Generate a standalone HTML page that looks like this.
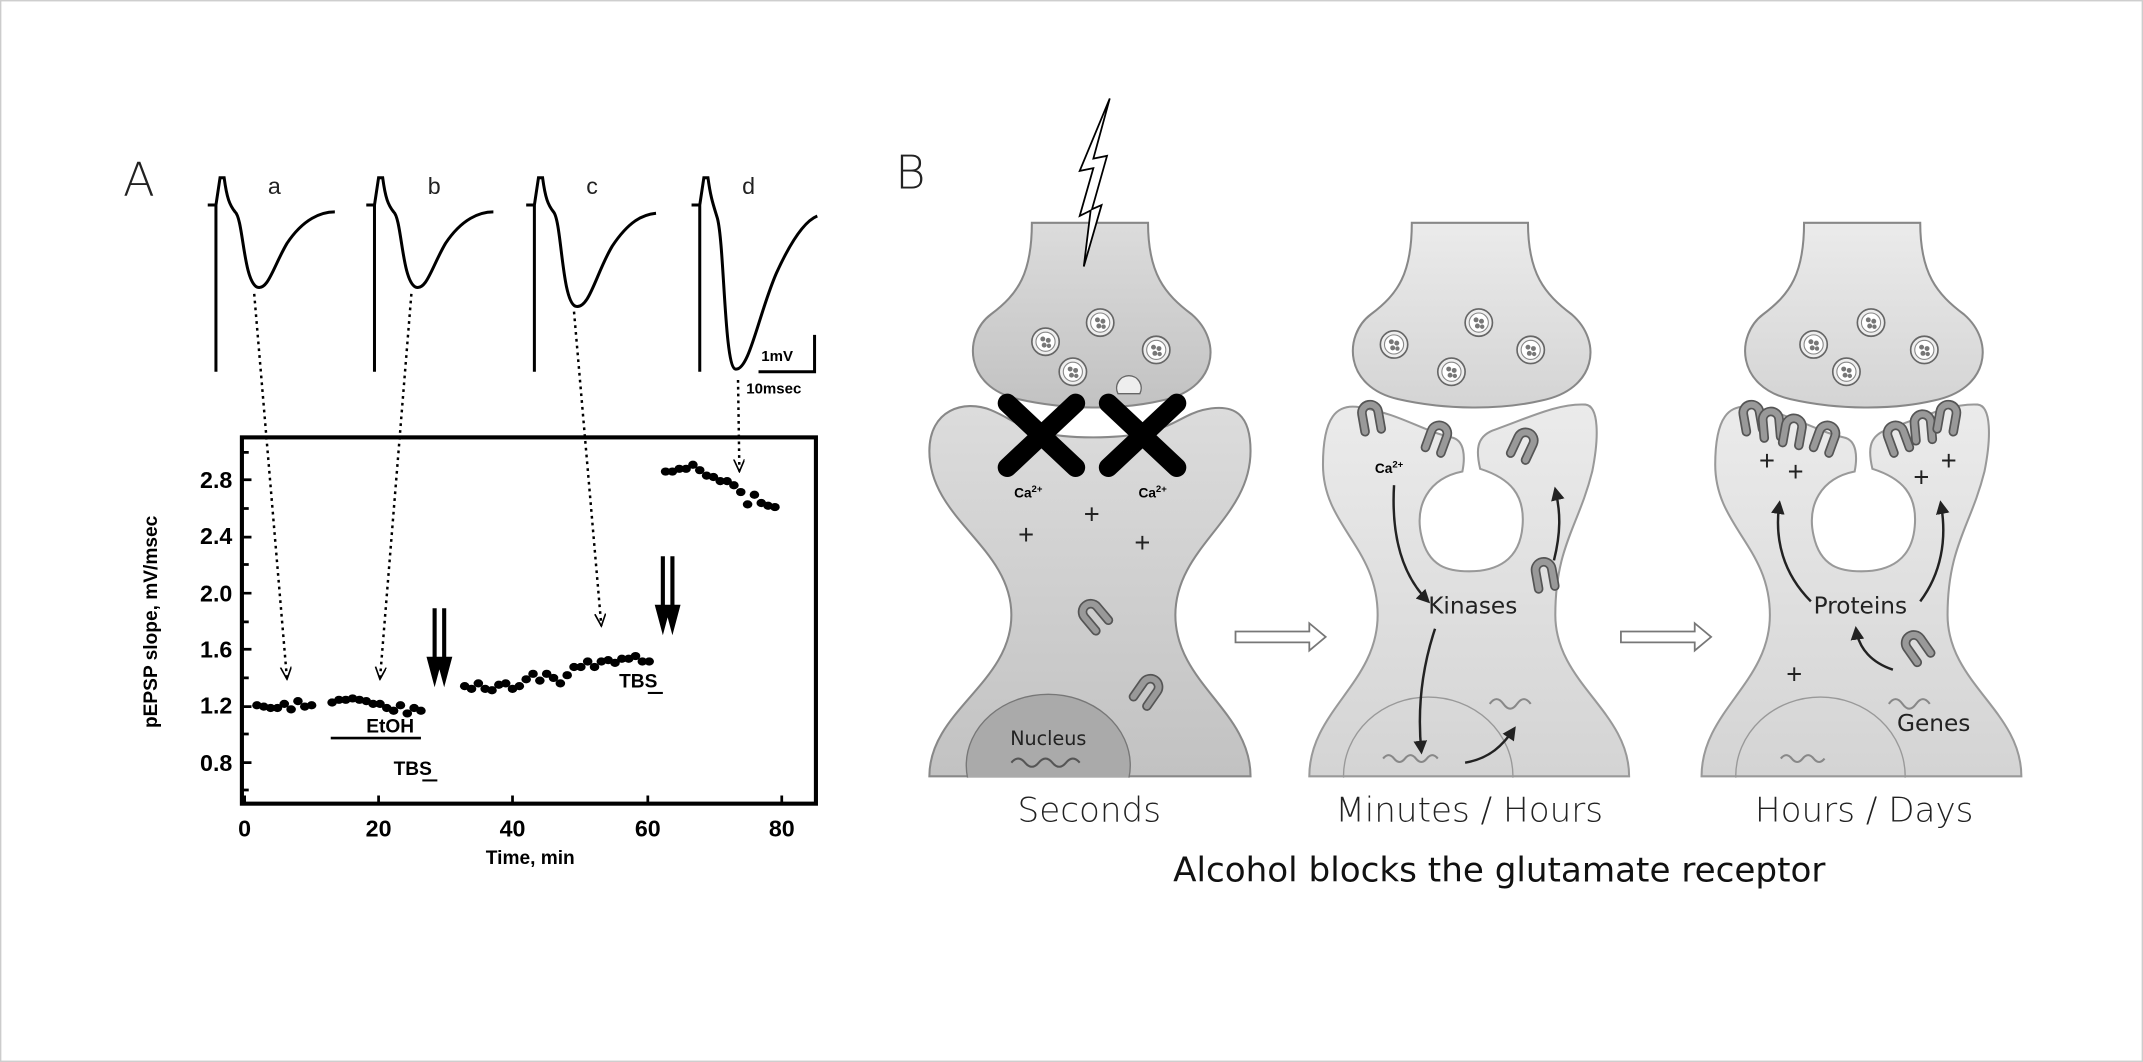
<!DOCTYPE html>
<html><head><meta charset="utf-8"><style>
html,body{margin:0;padding:0;background:#fff}
svg{display:block}
text{font-family:"Liberation Sans",sans-serif}
</style></head><body>
<svg width="2143" height="1062" viewBox="0 0 1568 777" xmlns="http://www.w3.org/2000/svg">
<defs>
<linearGradient id="g1" x1="0" y1="0" x2="0" y2="1"><stop offset="0" stop-color="#dcdcdc"/><stop offset="1" stop-color="#c2c2c2"/></linearGradient>
<linearGradient id="g2" x1="0" y1="0" x2="0" y2="1"><stop offset="0" stop-color="#ebebeb"/><stop offset="1" stop-color="#d4d4d4"/></linearGradient>
<marker id="ah" markerWidth="10" markerHeight="10" refX="9" refY="4" orient="auto" markerUnits="userSpaceOnUse"><path d="M0,0 L9,4 L0,8" fill="none" stroke="#000" stroke-width="1.2"/></marker>
<marker id="ak" markerWidth="10" markerHeight="10" refX="8" refY="5" orient="auto" markerUnits="userSpaceOnUse"><path d="M0,0 L10,5 L0,10 Z" fill="#222"/></marker>
<g id="ves"><circle r="10" fill="#eee" stroke="#666" stroke-width="1.2"/><circle r="7" fill="#fff" stroke="#888" stroke-width="0.8"/><circle cx="-2" cy="-2" r="1.8" fill="#777"/><circle cx="2" cy="-1" r="1.8" fill="#777"/><circle cx="-1" cy="2.5" r="1.8" fill="#777"/><circle cx="2.5" cy="3" r="1.6" fill="#777"/></g>
<g id="rec"><path d="M-6,10 L-6,-3 A6,6 0 0 1 6,-3 L6,10" fill="none" stroke="#555" stroke-width="7" stroke-linecap="round"/><path d="M-6,10 L-6,-3 A6,6 0 0 1 6,-3 L6,10" fill="none" stroke="#999" stroke-width="4.5" stroke-linecap="round"/></g>
<g id="pre"><path d="M755,163 L840,163 C840,200 852,215 872,230 C895,250 890,285 850,293 C820,300 780,300 745,292 C705,283 705,245 725,230 C745,215 755,200 755,163 Z" stroke="#888" stroke-width="1.5"/></g>
</defs>
<rect x="0.5" y="0.5" width="1567" height="776" fill="#fff" stroke="#ccc"/>

<!-- Panel A -->
<text x="90" y="143" font-size="34" fill="#222" style="font-family:'DejaVu Sans',sans-serif;font-weight:200">A</text>
<g font-size="17" fill="#222" style="font-family:'DejaVu Sans',sans-serif"><text x="196" y="142">a</text><text x="313" y="142">b</text><text x="429" y="142">c</text><text x="543" y="142">d</text></g>
<g fill="none" stroke="#000" stroke-width="2.2">
<path d="M152,150 L158,150 L158,272 M158,150 L161,130 L164,130 C166,145 168,150 172,155 C178,160 178,205 188,210 C196,213 200,195 210,178 C222,160 235,155 245,155"/>
<path d="M268,150 L274,150 L274,272 M274,150 L277,130 L280,130 C282,145 284,150 288,155 C294,160 294,205 304,210 C312,213 316,195 326,178 C338,160 351,155 361,155"/>
<path d="M385,150 L391,150 L391,272 M391,150 L394,130 L397,130 C399,145 401,150 405,155 C411,162 411,220 421,224 C431,227 436,200 448,180 C460,162 470,157 480,156"/>
<path d="M506,150 L512,150 L512,272 M512,150 L515,130 L518,130 C520,145 522,150 525,160 C530,180 530,268 538,270 C548,272 555,230 568,200 C578,178 588,162 598,158"/>
<path d="M555,272 L596,272 L596,245"/>
</g>
<text x="557" y="264" font-size="11" font-weight="bold">1mV</text>
<text x="546" y="288" font-size="11" font-weight="bold">10msec</text>
<g fill="none" stroke="#000" stroke-width="1.8" stroke-dasharray="2,3">
<path d="M186,215 L210,497" marker-end="url(#ah)"/>
<path d="M301,215 L278,497" marker-end="url(#ah)"/>
<path d="M420,228 L440,458" marker-end="url(#ah)"/>
<path d="M540,278 L541,345" marker-end="url(#ah)"/>
</g>
<rect x="177" y="320" width="420" height="268" fill="none" stroke="#000" stroke-width="3"/>
<g stroke="#000" stroke-width="2">
<path d="M177,331 h5 M177,351 h7 M177,372 h5 M177,393 h7 M177,413 h5 M177,434 h7 M177,455 h5 M177,475 h7 M177,496 h5 M177,517 h7 M177,537 h5 M177,558 h7 M177,578 h5"/>
<path d="M179,588 v-6 M277,588 v-6 M375,588 v-6 M474,588 v-6 M572,588 v-6"/>
</g>
<g font-size="17" font-weight="bold" text-anchor="end"><text x="170" y="357">2.8</text><text x="170" y="398">2.4</text><text x="170" y="440">2.0</text><text x="170" y="481">1.6</text><text x="170" y="522">1.2</text><text x="170" y="564">0.8</text></g>
<g font-size="17" font-weight="bold" text-anchor="middle"><text x="179" y="612">0</text><text x="277" y="612">20</text><text x="375" y="612">40</text><text x="474" y="612">60</text><text x="572" y="612">80</text></g>
<text x="388" y="632" font-size="14" font-weight="bold" text-anchor="middle">Time, min</text>
<text transform="translate(115,455) rotate(-90)" font-size="14" font-weight="bold" text-anchor="middle">pEPSP slope,  mV/msec</text>
<g fill="#000">
<ellipse cx="188" cy="516" rx="3.5" ry="3"/><ellipse cx="193" cy="517" rx="3.5" ry="3"/><ellipse cx="198" cy="518" rx="3.5" ry="3"/><ellipse cx="203" cy="518" rx="3.5" ry="3"/><ellipse cx="208" cy="515" rx="3.5" ry="3"/><ellipse cx="213" cy="519" rx="3.5" ry="3"/><ellipse cx="218" cy="513" rx="3.5" ry="3"/><ellipse cx="223" cy="517" rx="3.5" ry="3"/><ellipse cx="228" cy="516" rx="3.5" ry="3"/>
<ellipse cx="243" cy="514" rx="3.5" ry="3"/><ellipse cx="248" cy="512" rx="3.5" ry="3"/><ellipse cx="253" cy="512" rx="3.5" ry="3"/><ellipse cx="258" cy="511" rx="3.5" ry="3"/><ellipse cx="263" cy="512" rx="3.5" ry="3"/><ellipse cx="268" cy="513" rx="3.5" ry="3"/><ellipse cx="273" cy="515" rx="3.5" ry="3"/><ellipse cx="278" cy="515" rx="3.5" ry="3"/><ellipse cx="283" cy="518" rx="3.5" ry="3"/><ellipse cx="288" cy="520" rx="3.5" ry="3"/><ellipse cx="293" cy="516" rx="3.5" ry="3"/><ellipse cx="298" cy="522" rx="3.5" ry="3"/><ellipse cx="303" cy="518" rx="3.5" ry="3"/><ellipse cx="308" cy="520" rx="3.5" ry="3"/>
<ellipse cx="340" cy="502" rx="3.5" ry="3"/><ellipse cx="345" cy="504" rx="3.5" ry="3"/><ellipse cx="350" cy="500" rx="3.5" ry="3"/><ellipse cx="355" cy="504" rx="3.5" ry="3"/><ellipse cx="360" cy="505" rx="3.5" ry="3"/><ellipse cx="365" cy="501" rx="3.5" ry="3"/><ellipse cx="370" cy="500" rx="3.5" ry="3"/><ellipse cx="375" cy="504" rx="3.5" ry="3"/><ellipse cx="380" cy="502" rx="3.5" ry="3"/><ellipse cx="385" cy="497" rx="3.5" ry="3"/><ellipse cx="390" cy="493" rx="3.5" ry="3"/><ellipse cx="395" cy="498" rx="3.5" ry="3"/><ellipse cx="400" cy="493" rx="3.5" ry="3"/><ellipse cx="405" cy="496" rx="3.5" ry="3"/><ellipse cx="410" cy="500" rx="3.5" ry="3"/><ellipse cx="415" cy="494" rx="3.5" ry="3"/><ellipse cx="420" cy="488" rx="3.5" ry="3"/><ellipse cx="425" cy="488" rx="3.5" ry="3"/><ellipse cx="430" cy="484" rx="3.5" ry="3"/><ellipse cx="435" cy="488" rx="3.5" ry="3"/><ellipse cx="440" cy="484" rx="3.5" ry="3"/><ellipse cx="445" cy="483" rx="3.5" ry="3"/><ellipse cx="450" cy="485" rx="3.5" ry="3"/><ellipse cx="455" cy="482" rx="3.5" ry="3"/><ellipse cx="460" cy="482" rx="3.5" ry="3"/><ellipse cx="465" cy="480" rx="3.5" ry="3"/><ellipse cx="470" cy="484" rx="3.5" ry="3"/><ellipse cx="475" cy="484" rx="3.5" ry="3"/>
<ellipse cx="487" cy="345" rx="3.5" ry="3"/><ellipse cx="492" cy="345" rx="3.5" ry="3"/><ellipse cx="497" cy="343" rx="3.5" ry="3"/><ellipse cx="502" cy="343" rx="3.5" ry="3"/><ellipse cx="507" cy="340" rx="3.5" ry="3"/><ellipse cx="512" cy="344" rx="3.5" ry="3"/><ellipse cx="517" cy="348" rx="3.5" ry="3"/><ellipse cx="522" cy="349" rx="3.5" ry="3"/><ellipse cx="527" cy="352" rx="3.5" ry="3"/><ellipse cx="532" cy="352" rx="3.5" ry="3"/><ellipse cx="537" cy="355" rx="3.5" ry="3"/><ellipse cx="542" cy="360" rx="3.5" ry="3"/><ellipse cx="547" cy="369" rx="3.5" ry="3"/><ellipse cx="552" cy="362" rx="3.5" ry="3"/><ellipse cx="557" cy="368" rx="3.5" ry="3"/><ellipse cx="562" cy="370" rx="3.5" ry="3"/><ellipse cx="567" cy="371" rx="3.5" ry="3"/>
</g>
<path d="M242,540 L308,540" stroke="#000" stroke-width="2"/>
<text x="268" y="536" font-size="14" font-weight="bold">EtOH</text>
<text x="288" y="567" font-size="14" font-weight="bold">TBS</text><path d="M309,571 h11" stroke="#000" stroke-width="1.5"/>
<text x="453" y="503" font-size="14" font-weight="bold">TBS</text><path d="M474,507 h11" stroke="#000" stroke-width="1.5"/>
<g stroke="#000" stroke-width="3" fill="#000">
<path d="M318,445 V485 M325,445 V485"/><path d="M314,482 L318,497 L322,482 Z M321,482 L325,497 L329,482 Z"/>
<path d="M485,407 V447 M492,407 V447"/><path d="M481,444 L485,459 L489,444 Z M488,444 L492,459 L496,444 Z"/>
</g>

<!-- Panel B -->
<text x="655" y="138" font-size="34" fill="#222" style="font-family:'DejaVu Sans',sans-serif;font-weight:200">B</text>

<!-- neuron 1 -->
<use href="#pre" fill="url(#g1)"/>
<path d="M812,72 L790,125 L800,123 L790,158 L798,154 L793,195 L806,150 L799,153 L810,114 L800,116 Z" fill="#fff" stroke="#000" stroke-width="1.3"/>
<path d="M680,568 C680,520 740,500 740,450 C740,400 680,380 680,330 C680,300 705,292 725,300 C745,308 750,320 800,320 C855,320 860,305 880,300 C905,294 915,305 915,330 C915,380 860,400 860,450 C860,500 915,520 915,568 Z" fill="url(#g1)" stroke="#888" stroke-width="1.5"/>
<ellipse cx="767" cy="560" rx="60" ry="52" fill="#aaa" stroke="#777"/>
<rect x="700" y="569" width="140" height="50" fill="#fff"/>
<text x="767" y="545" font-size="14" text-anchor="middle" fill="#222" style="font-family:'DejaVu Sans',sans-serif">Nucleus</text>
<path d="M740,558 q5,-6 10,0 t10,0 t10,0 t10,0 t10,0" fill="none" stroke="#555" stroke-width="1.5"/>
<use href="#ves" x="765" y="250"/><use href="#ves" x="805" y="236"/><use href="#ves" x="846" y="256"/><use href="#ves" x="785" y="272"/>
<path d="M818,288 a9,9 0 1 1 16,0 Z" fill="#eee" stroke="#666"/>
<g stroke="#000" stroke-width="14" stroke-linecap="round"><path d="M737,295 L787,342 M787,295 L737,342 M811,295 L861,342 M861,295 L811,342"/></g>
<g font-size="10" font-weight="bold"><text x="742" y="364">Ca<tspan font-size="7" dy="-4">2+</tspan></text><text x="833" y="364">Ca<tspan font-size="7" dy="-4">2+</tspan></text></g>
<g font-size="20" fill="#222"><text x="745" y="398">+</text><text x="793" y="383">+</text><text x="830" y="404">+</text></g>
<use href="#rec" transform="translate(800,450) rotate(-40)"/>
<use href="#rec" transform="translate(840,505) rotate(35)"/>
<text x="797" y="601" font-size="25" text-anchor="middle" fill="#222" style="font-family:'DejaVu Sans',sans-serif;font-weight:200">Seconds</text>
<path d="M904,462 H958 V456 L970,466 L958,476 V470 H904 Z" fill="#fff" stroke="#777" stroke-width="1.3"/>
<path d="M1186,462 H1240 V456 L1252,466 L1240,476 V470 H1186 Z" fill="#fff" stroke="#777" stroke-width="1.3"/>

<!-- neuron 2 & 3 -->
<g id="n2">
<use href="#pre" fill="url(#g2)" transform="translate(278,0)"/>
<path d="M958,568 C958,520 1008,500 1008,450 C1008,400 968,385 968,340 C968,305 978,295 995,298 C1025,303 1040,315 1062,320 C1072,322 1072,335 1070,345 C1045,350 1035,370 1040,392 C1045,415 1060,418 1075,418 C1095,418 1112,410 1114,385 C1116,362 1105,350 1083,343 C1080,330 1080,320 1092,315 C1120,305 1140,295 1160,296 C1170,297 1170,320 1165,345 C1155,385 1138,400 1138,450 C1138,500 1192,520 1192,568 Z" fill="url(#g2)" stroke="#999" stroke-width="1.5"/>
</g>
<ellipse cx="1045" cy="568" rx="62" ry="58" fill="none" stroke="#999"/>
<rect x="975" y="569" width="150" height="70" fill="#fff"/>
<use href="#ves" x="1020" y="252"/><use href="#ves" x="1082" y="236"/><use href="#ves" x="1120" y="256"/><use href="#ves" x="1062" y="272"/>
<use href="#rec" transform="translate(1003,305) rotate(-10)"/><use href="#rec" transform="translate(1052,320) rotate(20)"/>
<use href="#rec" transform="translate(1115,325) rotate(25)"/><use href="#rec" transform="translate(1130,420) rotate(-10)"/>
<text x="1006" y="346" font-size="10" font-weight="bold">Ca<tspan font-size="7" dy="-4">2+</tspan></text>
<g fill="none" stroke="#222" stroke-width="1.8">
<path d="M1020,355 C1018,390 1025,420 1045,440" marker-end="url(#ak)"/>
<path d="M1137,410 C1142,390 1142,375 1138,358" marker-end="url(#ak)"/>
<path d="M1050,460 C1040,490 1037,520 1040,550" marker-end="url(#ak)"/>
<path d="M1072,558 C1090,555 1100,545 1108,533" marker-end="url(#ak)"/>
</g>
<text x="1045" y="449" font-size="17" fill="#222" style="font-family:'DejaVu Sans',sans-serif">Kinases</text>
<path d="M1012,555 q4,-5 8,0 t8,0 t8,0 t8,0 t8,0 M1090,515 q5,-7 10,0 t10,0 t10,0" fill="none" stroke="#888" stroke-width="1.5"/>
<text x="1075" y="601" font-size="25" text-anchor="middle" fill="#222" style="font-family:'DejaVu Sans',sans-serif;font-weight:200">Minutes / Hours</text>

<use href="#n2" transform="translate(287,0)"/>
<ellipse cx="1332" cy="568" rx="62" ry="58" fill="none" stroke="#999"/>
<rect x="1260" y="569" width="150" height="70" fill="#fff"/>
<use href="#ves" x="1327" y="252"/><use href="#ves" x="1369" y="236"/><use href="#ves" x="1408" y="256"/><use href="#ves" x="1351" y="272"/>
<use href="#rec" transform="translate(1282,305) rotate(-10)"/><use href="#rec" transform="translate(1296,310) rotate(-5)"/><use href="#rec" transform="translate(1312,315) rotate(10)"/><use href="#rec" transform="translate(1336,320) rotate(20)"/>
<use href="#rec" transform="translate(1388,320) rotate(-20)"/><use href="#rec" transform="translate(1407,312) rotate(-5)"/><use href="#rec" transform="translate(1425,305) rotate(10)"/>
<g font-size="20" fill="#222"><text x="1287" y="344">+</text><text x="1308" y="352">+</text><text x="1400" y="356">+</text><text x="1420" y="344">+</text><text x="1307" y="500">+</text></g>
<g fill="none" stroke="#222" stroke-width="1.8">
<path d="M1325,440 C1305,420 1298,395 1302,368" marker-end="url(#ak)"/>
<path d="M1405,440 C1420,420 1425,395 1420,368" marker-end="url(#ak)"/>
<path d="M1385,490 C1370,485 1360,475 1358,460" marker-end="url(#ak)"/>
</g>
<use href="#rec" transform="translate(1402,473) rotate(-35)"/>
<text x="1327" y="449" font-size="17" fill="#222" style="font-family:'DejaVu Sans',sans-serif">Proteins</text>
<text x="1388" y="535" font-size="17" fill="#222" style="font-family:'DejaVu Sans',sans-serif">Genes</text>
<path d="M1303,555 q4,-5 8,0 t8,0 t8,0 t8,0 M1382,515 q5,-7 10,0 t10,0 t10,0" fill="none" stroke="#888" stroke-width="1.5"/>
<text x="1364" y="601" font-size="25" text-anchor="middle" fill="#222" style="font-family:'DejaVu Sans',sans-serif;font-weight:200">Hours / Days</text>

<text x="1097" y="645" font-size="25" text-anchor="middle" fill="#111" style="font-family:'DejaVu Sans',sans-serif">Alcohol blocks the glutamate receptor</text>
</svg>
</body></html>
